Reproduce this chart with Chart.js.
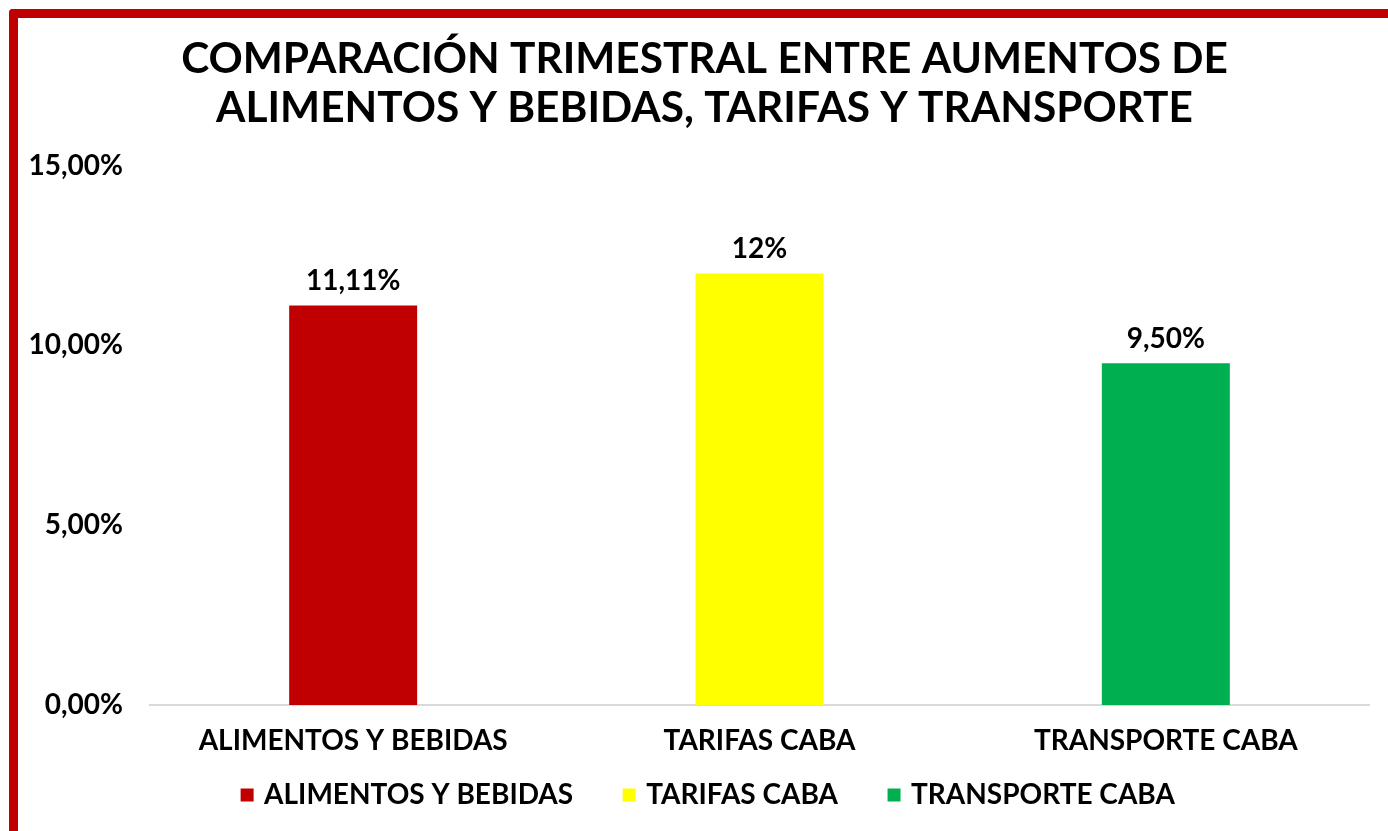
<!DOCTYPE html>
<html>
<head>
<meta charset="utf-8">
<script src="https://cdn.jsdelivr.net/npm/chart.js@4.4.0/dist/chart.umd.min.js"></script>
<style>
  html, body { margin: 0; padding: 0; background: #ffffff; overflow: hidden; }
  #wrap { position: relative; width: 1388px; height: 831px; }
  #chart { position: absolute; left: 0; top: 0; }
  #frame {
    position: absolute; left: 9px; top: 9px; width: 1400px; height: 818px;
    border-left: 9px solid #C00000; border-top: 9px solid #C00000;
    border-bottom: 2px solid #E06666;
    border-top-left-radius: 4px; box-sizing: content-box; pointer-events: none;
  }
</style>
</head>
<body>
<div id="wrap">
  <canvas id="chart" width="1388" height="831"></canvas>
  <div id="frame"></div>
</div>
<script>
const titleLines = ["COMPARACIÓN TRIMESTRAL ENTRE AUMENTOS DE", "ALIMENTOS Y BEBIDAS, TARIFAS Y TRANSPORTE"];
const categories = ["ALIMENTOS Y BEBIDAS", "TARIFAS CABA", "TRANSPORTE CABA"];
const values = [11.11, 12, 9.5];
const valueLabels = ["11,11%", "12%", "9,50%"];
const barColors = ["#C00000", "#FFFF00", "#00B050"];
const yTicks = [0, 5, 10, 15];
const yTickLabels = ["0,00%", "5,00%", "10,00%", "15,00%"];

const FONT = "Lato, 'Noto Sans', sans-serif";

const valueLabelPlugin = {
  id: 'valueLabels',
  afterDatasetsDraw(chart) {
    const ctx = chart.ctx;
    const meta = chart.getDatasetMeta(0);
    ctx.save();
    ctx.font = "bold 28px " + FONT;
    ctx.fillStyle = "#000000";
    ctx.textAlign = "center";
    ctx.textBaseline = "alphabetic";
    meta.data.forEach((bar, i) => {
      ctx.fillText(valueLabels[i], bar.x, bar.y - 15);
    });
    ctx.restore();
  }
};

// place the legend row just below the category labels, nudge title/legend centre
const legendPlacePlugin = {
  id: 'legendPlace',
  afterLayout(chart) {
    const lg = chart.legend;
    if (lg) {
      lg.top = chart.scales.x.top + 23;
      lg.height = 100;
      lg.bottom = lg.top + lg.height;
      lg.left += 15; lg.right += 15;
    }
    const tb = chart.titleBlock;
    if (tb) { tb.left += 10; tb.right += 10; }
  }
};

new Chart(document.getElementById('chart'), {
  type: 'bar',
  data: {
    labels: categories,
    datasets: [{
      label: 'Aumento',
      data: values,
      backgroundColor: barColors,
      borderWidth: 0,
      barPercentage: 0.315,
      categoryPercentage: 1.0
    }]
  },
  plugins: [valueLabelPlugin, legendPlacePlugin],
  options: {
    responsive: false,
    animation: false,
    devicePixelRatio: 1,
    layout: { padding: { left: 20, right: 19, top: 0, bottom: 12 } },
    plugins: {
      tooltip: { enabled: false },
      title: {
        display: true,
        text: titleLines,
        color: '#000000',
        font: { family: FONT, size: 42.4, weight: 'bold', lineHeight: 1.15 },
        padding: { top: 35, bottom: 33 }
      },
      legend: {
        display: true,
        position: 'bottom',
        maxHeight: 63,
        labels: {
          color: '#000000',
          font: { family: FONT, size: 28, weight: 'bold' },
          usePointStyle: true,
          pointStyle: 'rect',
          boxWidth: 6,
          boxHeight: 13,
          padding: 53,
          generateLabels(chart) {
            return categories.map((c, i) => ({
              text: c,
              fillStyle: barColors[i],
              strokeStyle: barColors[i],
              lineWidth: 0,
              pointStyle: 'rect',
              hidden: false,
              index: i
            }));
          }
        }
      }
    },
    scales: {
      x: {
        grid: { display: false, drawTicks: false },
        border: { display: true, color: '#D9D9D9', width: 2 },
        ticks: {
          color: '#000000',
          font: { family: FONT, size: 28, weight: 'bold' },
          padding: 19,
          maxRotation: 0,
          autoSkip: false
        },
        afterFit(scale) { scale.height = 51; }
      },
      y: {
        min: 0,
        max: 15,
        grid: { display: false, drawTicks: false },
        border: { display: false },
        afterBuildTicks(scale) { scale.ticks = yTicks.map(v => ({ value: v })); },
        ticks: {
          color: '#000000',
          font: { family: FONT, size: 28, weight: 'bold' },
          padding: 27,
          callback(value) {
            const i = yTicks.indexOf(value);
            return i >= 0 ? yTickLabels[i] : '';
          }
        },
        afterFit(scale) { scale.width = 130; }
      }
    }
  }
});
</script>
</body>
</html>
